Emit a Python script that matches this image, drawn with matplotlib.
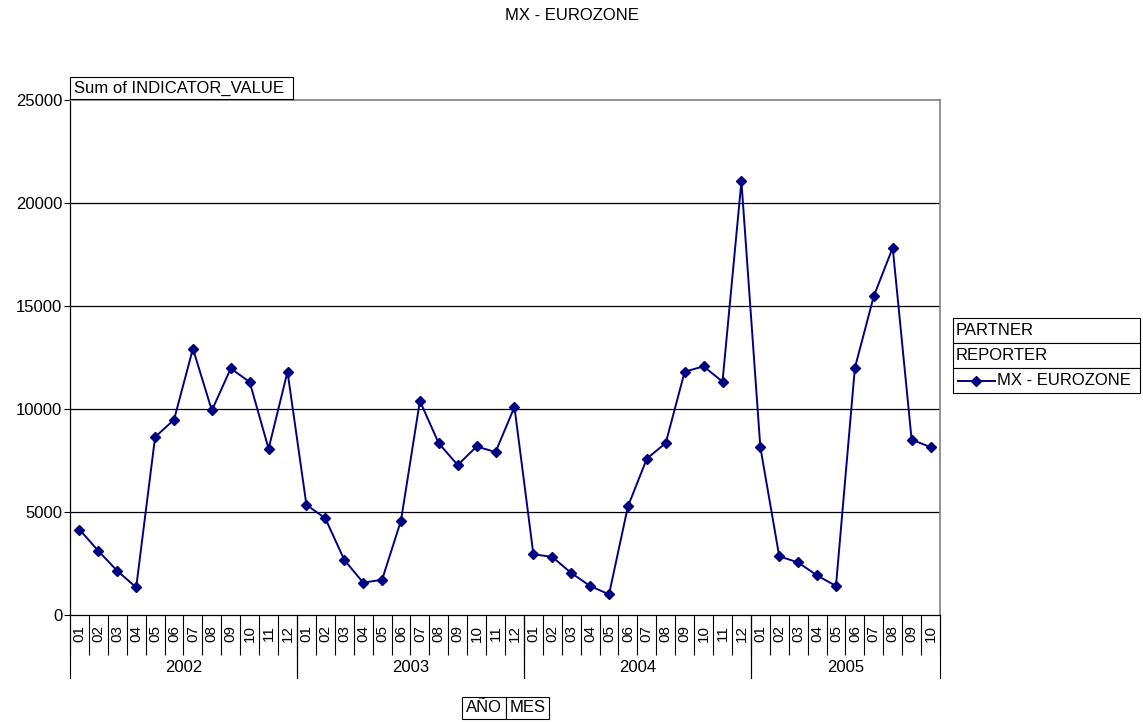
import matplotlib
matplotlib.use("Agg")
import matplotlib.pyplot as plt
import matplotlib.transforms as mtransforms
from matplotlib.patches import Rectangle
from matplotlib.lines import Line2D

plt.rcParams['font.family'] = ['Liberation Sans', 'DejaVu Sans']

# Monthly data, 2002-01 .. 2005-10
years = ["2002", "2003", "2004", "2005"]
months_per_year = [12, 12, 12, 10]
month_labels = ([f"{m:02d}" for m in range(1, 13)] * 3
                + [f"{m:02d}" for m in range(1, 11)])
values = [
    4150, 3110, 2140, 1340, 8640, 9480, 12930, 9930, 11970, 11310, 8070, 11810,
    5350, 4690, 2680, 1570, 1710, 4580, 10390, 8330, 7280, 8180, 7910, 10100,
    2950, 2820, 2040, 1410, 1000, 5270, 7590, 8350, 11810, 12070, 11330, 21050,
    8150, 2850, 2550, 1920, 1410, 12000, 15480, 17830, 8510, 8150,
]
series_name = "MX - EUROZONE"
y_ticks = [0, 5000, 10000, 15000, 20000, 25000]

W, H = 1143, 722
NAVY = "#000080"
fs = 12
fs_month = 11

fig = plt.figure(figsize=(W / 100, H / 100), dpi=100)


def fx(px):
    return px / W


def fy(py):
    return 1 - py / H


ax = fig.add_axes([fx(70), fy(615), fx(940) - fx(70), fy(100) - fy(615)])

n = len(values)
x = list(range(n))
ax.plot(x, values, color=NAVY, lw=1.4, marker="D", ms=4.8,
        markerfacecolor=NAVY, markeredgecolor=NAVY, zorder=3, clip_on=False)

ax.set_xlim(-0.5, n - 0.5)
ax.set_ylim(y_ticks[0], y_ticks[-1])
ax.set_yticks(y_ticks)
ax.set_yticklabels([str(v) for v in y_ticks], fontsize=fs)
ax.tick_params(axis="y", length=4, width=0.8, pad=1.5, color="black")

for yv in y_ticks[1:-1]:
    ax.axhline(yv, color="black", lw=0.9, zorder=1)

for side in ("top", "right"):
    ax.spines[side].set_color("#808080")
    ax.spines[side].set_linewidth(1.2)
for side in ("left", "bottom"):
    ax.spines[side].set_color("black")
    ax.spines[side].set_linewidth(0.9)

# month labels at category centres, separators at category boundaries
ax.set_xticks(x)
ax.set_xticklabels(month_labels, rotation=90, fontsize=fs_month)
ax.tick_params(axis="x", which="major", length=0, pad=7)
ax.set_xticks([i - 0.5 for i in range(n + 1)], minor=True)
ax.tick_params(axis="x", which="minor", length=29, width=0.8, color="black")

# year level of the category axis
blend = mtransforms.blended_transform_factory(ax.transData, ax.transAxes)
ax_h_px = 615 - 100
start = 0
for yr, cnt in zip(years, months_per_year):
    for b in (start - 0.5, start + cnt - 0.5):
        ax.add_line(Line2D([b, b], [0, -(678 - 615) / ax_h_px], transform=blend,
                           color="black", lw=0.8, clip_on=False))
    ax.text(start + (cnt - 1) / 2, -(667 - 615) / ax_h_px, yr, transform=blend,
            ha="center", va="center", fontsize=fs)
    start += cnt

# title
fig.text(0.5, fy(15), series_name, ha="center", va="center", fontsize=fs)


def box(x0, y0, x1, y1):
    fig.add_artist(Rectangle((fx(x0), fy(y1)), fx(x1) - fx(x0), fy(y0) - fy(y1),
                             transform=fig.transFigure, fc="white",
                             ec="black", lw=0.8, zorder=5))


# data field button
box(70, 77, 293, 99)
fig.text(fx(74), fy(88), "Sum of INDICATOR_VALUE", ha="left", va="center",
         fontsize=fs, zorder=6)

# legend with page-field rows
rows = [(318, 343), (343, 368), (368, 393)]
for (y0, y1) in rows:
    box(953, y0, 1140, y1)
fig.text(fx(956), fy(331), "PARTNER", ha="left", va="center", fontsize=fs, zorder=6)
fig.text(fx(956), fy(356), "REPORTER", ha="left", va="center", fontsize=fs, zorder=6)
fig.add_artist(Line2D([fx(958), fx(995)], [fy(381), fy(381)],
                      transform=fig.transFigure, color=NAVY, lw=1.4, zorder=6))
fig.add_artist(Line2D([fx(976)], [fy(381)], transform=fig.transFigure,
                      marker="D", ms=4.8, color=NAVY, lw=0, zorder=6))
fig.text(fx(997), fy(381), series_name, ha="left", va="center", fontsize=fs, zorder=6)

# row field buttons
box(462, 697, 506, 719)
box(506, 697, 549, 719)
fig.text(fx(484), fy(708), "AÑO", ha="center", va="center", fontsize=fs, zorder=6)
fig.text(fx(527.5), fy(708), "MES", ha="center", va="center", fontsize=fs, zorder=6)

fig.savefig("out.png", dpi=100)
